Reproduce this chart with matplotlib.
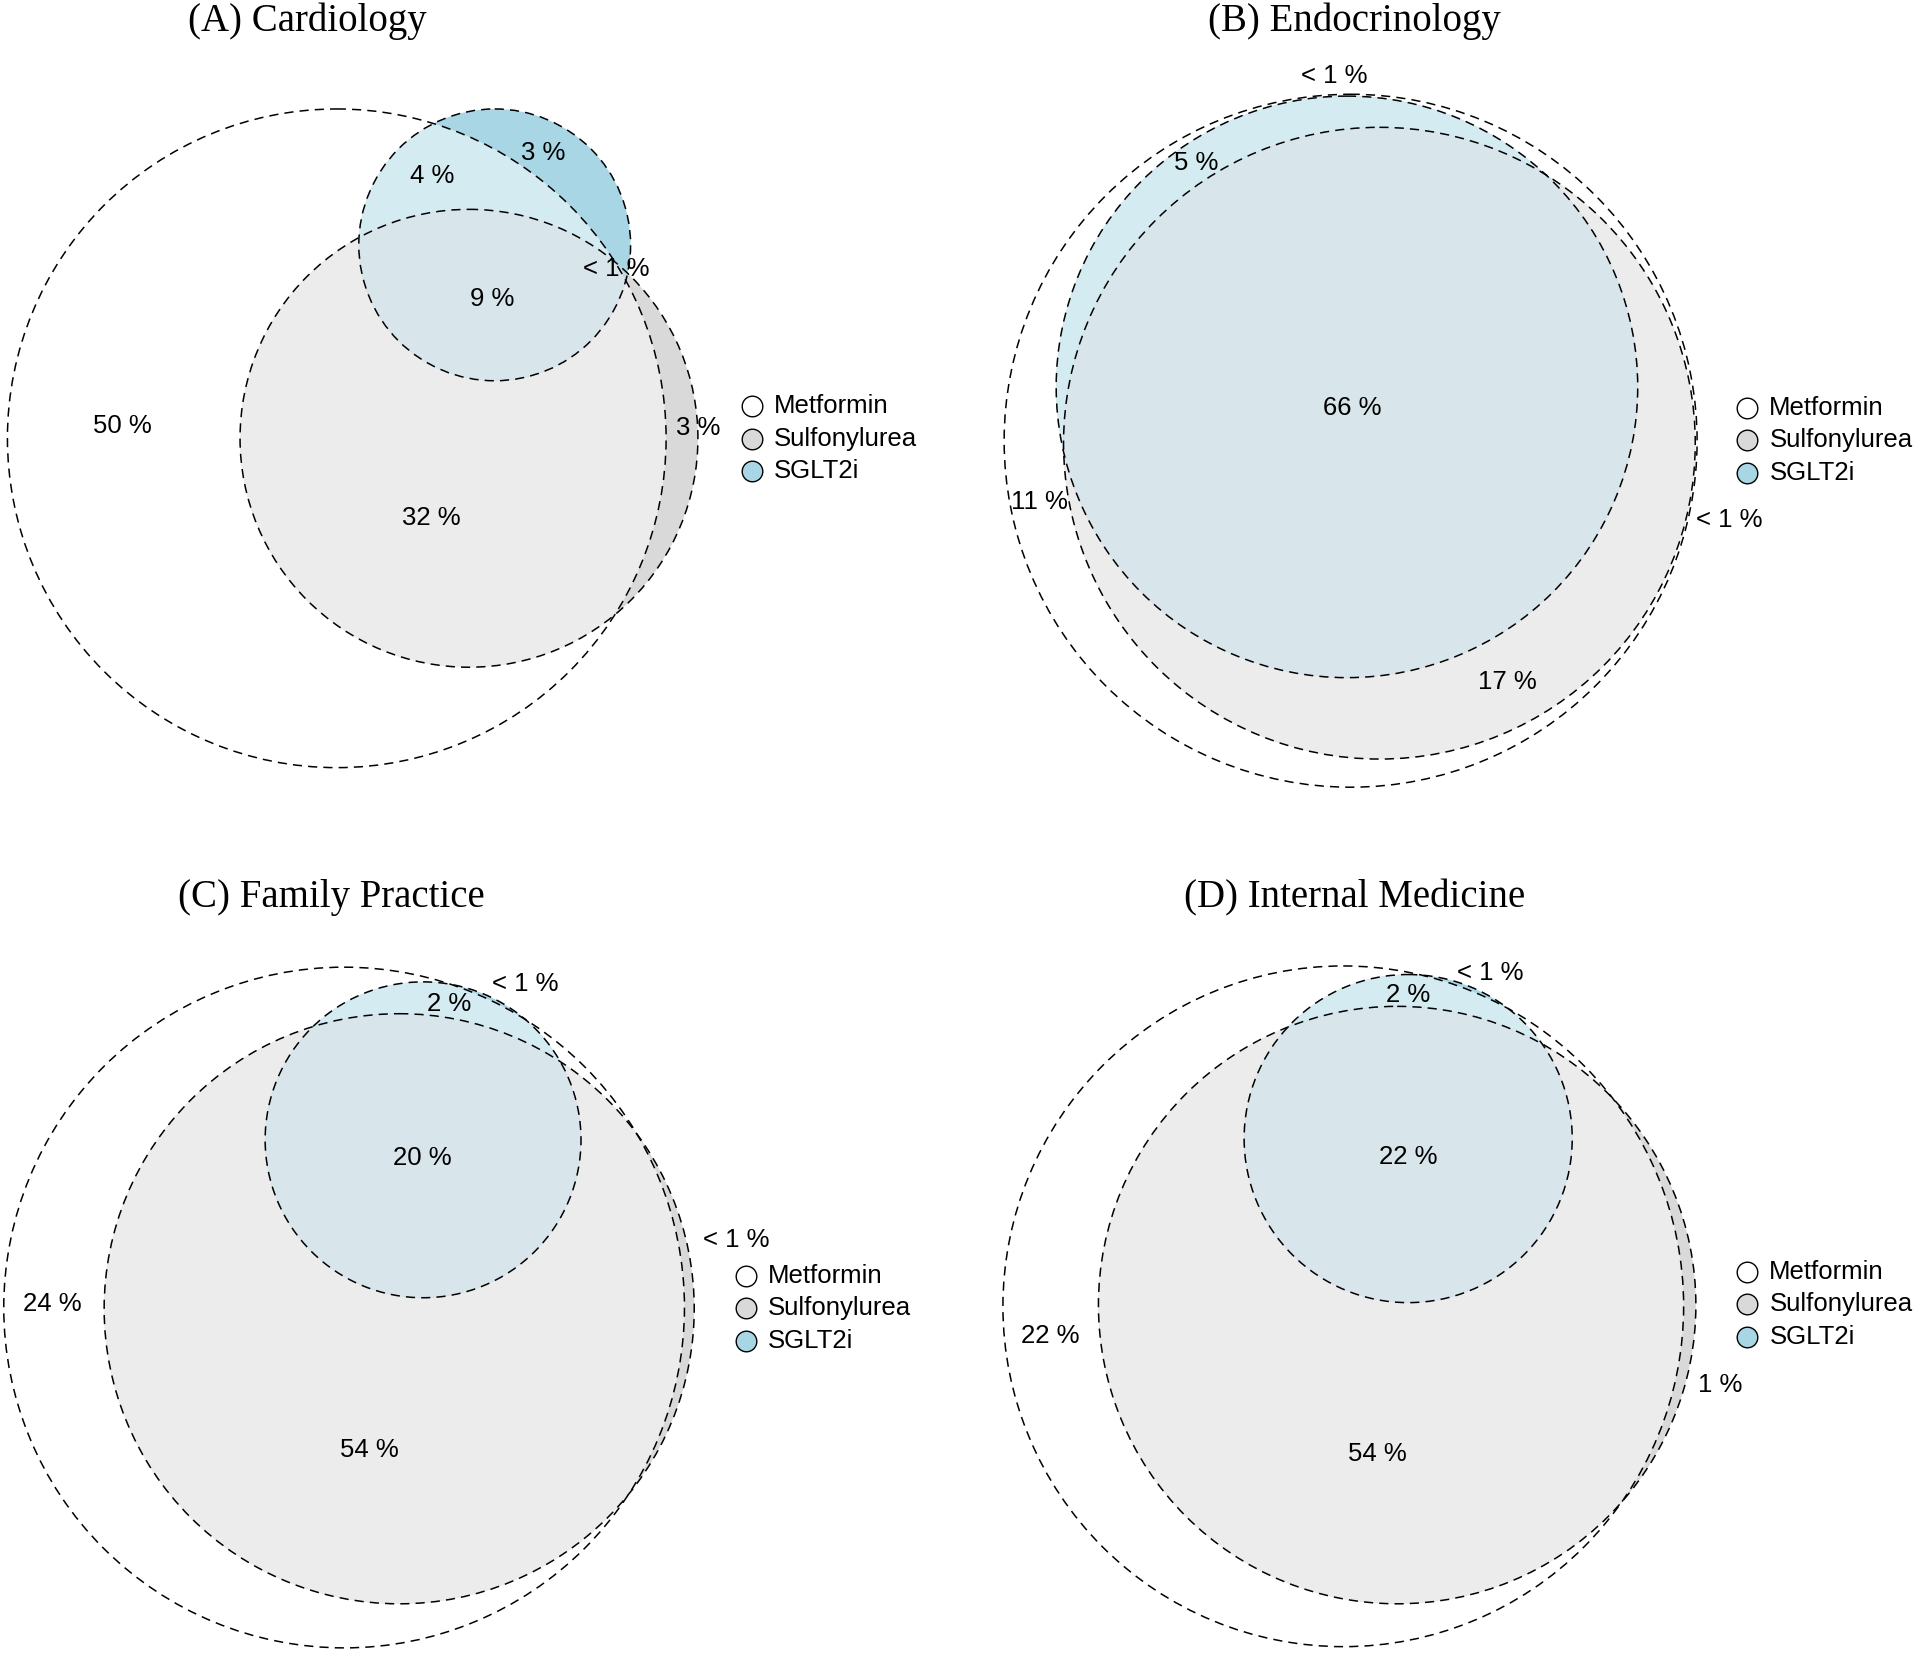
import numpy as np
import matplotlib
matplotlib.use("Agg")
import matplotlib.pyplot as plt
from matplotlib.patches import Circle, Polygon

# sets and their single-set fill colours
sets = ["Metformin", "Sulfonylurea", "SGLT2i"]
set_colors = ["#ffffff", "#d9d9d9", "#a9d6e4"]

titles = ["(A) Cardiology", "(B) Endocrinology", "(C) Family Practice", "(D) Internal Medicine"]

# region percentages shown in each panel
labels_A = ["50 %", "32 %", "3 %", "4 %", "3 %", "9 %", "< 1 %"]
labels_B = ["11 %", "17 %", "< 1 %", "5 %", "< 1 %", "66 %"]
labels_C = ["24 %", "54 %", "< 1 %", "2 %", "< 1 %", "20 %"]
labels_D = ["22 %", "54 %", "1 %", "2 %", "< 1 %", "22 %"]
panel_labels = [labels_A, labels_B, labels_C, labels_D]

# fitted circle layout (x, y, r) in page units of a 1568 x 1351 canvas
circles_A = [(275, 358, 269), (383, 358, 187), (404, 200, 111)]
circles_B = [(1103, 360, 283), (1126.5, 362, 258), (1100, 316, 237.5)]
circles_C = [(281, 1068, 278), (326, 1069, 241), (345.5, 931, 129)]
circles_D = [(1097, 1067, 278), (1141, 1066, 244), (1150, 930, 134)]
panel_circles = [circles_A, circles_B, circles_C, circles_D]

# label anchor points
pos_A = [(100, 348), (352, 423), (570, 350), (353, 144), (444, 125), (402, 244), (503, 220)]
pos_B = [(849, 410), (1231, 557), (1412, 425), (977, 133), (1090, 62), (1104, 333)]
pos_C = [(43, 1065), (302, 1184), (601, 1013), (367, 820), (429, 804), (345, 946)]
pos_D = [(858, 1091), (1125, 1188), (1405, 1131), (1150, 813), (1217, 795), (1150, 945)]
panel_pos = [pos_A, pos_B, pos_C, pos_D]

title_pos = [(251, 17), (1106, 17), (271, 733), (1106, 733)]
legend_x = [614, 1427, 609, 1427]
legend_y = [332, 333, 1042, 1039]

# overlap colours
col_MS = "#ececec"
col_MG = "#d5ebf2"
col_SG = "#c4d8df"
col_MSG = "#d8e5eb"

W, H = 1568, 1351


def region(cs):
    """convex intersection polygon of several circles"""
    pts = []
    t = np.linspace(0, 2 * np.pi, 1440, endpoint=False)
    for i, (cx, cy, r) in enumerate(cs):
        p = np.c_[cx + r * np.cos(t), cy + r * np.sin(t)]
        keep = np.ones(len(p), bool)
        for j, (ox, oy, orr) in enumerate(cs):
            if j != i:
                keep &= (p[:, 0] - ox) ** 2 + (p[:, 1] - oy) ** 2 <= orr ** 2 + 1e-6
        pts.append(p[keep])
    P = np.vstack(pts)
    if len(P) < 3:
        return None
    c = P.mean(axis=0)
    order = np.argsort(np.arctan2(P[:, 1] - c[1], P[:, 0] - c[0]))
    return P[order]


fig = plt.figure(figsize=(19.2, 16.54), dpi=100)
quarters = [(0, 0.5), (0.5, 0.5), (0, 0), (0.5, 0)]

for k in range(4):
    ax = fig.add_axes([quarters[k][0], quarters[k][1], 0.5, 0.5])
    x0 = 0 if k in (0, 2) else W / 2
    y0 = 0 if k in (0, 1) else H / 2
    ax.set_xlim(x0, x0 + W / 2)
    ax.set_ylim(y0 + H / 2, y0)
    ax.set_aspect("equal")
    ax.axis("off")

    M, S, G = panel_circles[k]
    for (cx, cy, r), col in zip([M, S, G], set_colors):
        ax.add_patch(Circle((cx, cy), r, facecolor=col, edgecolor="none"))
    for combo, col in [([M, S], col_MS), ([M, G], col_MG), ([S, G], col_SG), ([M, S, G], col_MSG)]:
        poly = region(combo)
        if poly is not None:
            ax.add_patch(Polygon(poly, closed=True, facecolor=col, edgecolor="none"))
    for (cx, cy, r) in [M, S, G]:
        ax.add_patch(Circle((cx, cy), r, facecolor="none", edgecolor="black",
                            linewidth=1.1, linestyle=(0, (6, 4))))

    for lab, (px, py) in zip(panel_labels[k], panel_pos[k]):
        ax.text(px, py, lab, ha="center", va="center", fontsize=18.5,
                family="Liberation Sans")

    tx, ty = title_pos[k]
    ax.text(tx, ty, titles[k], ha="center", va="center", fontsize=28,
            family="Liberation Serif")

    for i, (name, col) in enumerate(zip(sets, set_colors)):
        ly = legend_y[k] + i * 26.5
        ax.scatter([legend_x[k]], [ly], s=220, facecolor=col, edgecolor="black",
                   linewidth=1.0, zorder=5)
        ax.text(legend_x[k] + 18, ly, name, ha="left", va="center", fontsize=18.5,
                family="Liberation Sans")

fig.savefig("out.png", dpi=100)
